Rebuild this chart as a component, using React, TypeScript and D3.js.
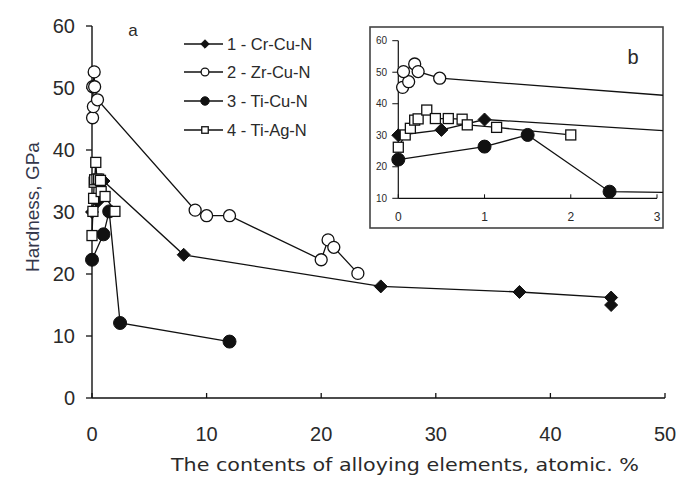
import React from "react";
import * as d3 from "d3";

// ---- data ----
const seriesNames = ["1 - Cr-Cu-N", "2 - Zr-Cu-N", "3 - Ti-Cu-N", "4 - Ti-Ag-N"];
const markerKinds = ["diamond", "openCircle", "filledCircle", "openSquare"];

const crCuN: [number, number][] = [
  [0, 30], [0.5, 31.7], [1, 35], [8, 23.1], [25.2, 18], [37.3, 17.1], [45.3, 16.2], [45.3, 15],
];
const zrCuN: [number, number][] = [
  [0.05, 45.2], [0.12, 47], [0.06, 50.2], [0.19, 52.6], [0.23, 50.2], [0.48, 48.1],
  [9, 30.3], [10, 29.4], [12, 29.4], [20, 22.3], [20.6, 25.5], [21.1, 24.3], [23.2, 20.1],
];
const tiCuN: [number, number][] = [
  [0, 22.3], [1, 26.4], [1.5, 30.1], [2.45, 12.1], [12, 9.1],
];
const tiAgN: [number, number][] = [
  [0, 26.2], [0.08, 30.1], [0.14, 32.2], [0.19, 34.8], [0.23, 35.2], [0.33, 38], [0.43, 35.3],
  [0.58, 35.3], [0.74, 35.1], [0.8, 33.3], [1.14, 32.5], [2, 30.1],
];
const allSeries = [crCuN, zrCuN, tiCuN, tiAgN];

const xTicks = [0, 10, 20, 30, 40, 50];
const yTicks = [0, 10, 20, 30, 40, 50, 60];
const insetXTicks = [0, 1, 2, 3];
const insetYTicks = [10, 20, 30, 40, 50, 60];

const xLabel = "The contents of alloying elements, atomic. %";
const yLabel = "Hardness, GPa";

// ---- layout ----
const W = 682, H = 477;
const x = d3.scaleLinear().domain([0, 50]).range([92, 665]);
const y = d3.scaleLinear().domain([0, 60]).range([398, 26]);
const xi = d3.scaleLinear().domain([0, 3]).range([398.3, 657]);
const yi = d3.scaleLinear().domain([10, 60]).range([198.3, 40.7]);

const INK = "#111";
const TXT = "#2a2a2a";
const SANS = "'Liberation Sans', Arial, sans-serif";

function Marker({ kind, cx, cy, s = 1 }: { kind: string; cx: number; cy: number; s?: number }) {
  if (kind === "diamond") {
    const r = 6.5 * s;
    return <path d={`M${cx},${cy - r}L${cx + r},${cy}L${cx},${cy + r}L${cx - r},${cy}Z`} fill={INK} stroke={INK} strokeWidth={1} />;
  }
  if (kind === "openCircle") return <circle cx={cx} cy={cy} r={6 * s} fill="#fff" stroke={INK} strokeWidth={1.3} />;
  if (kind === "filledCircle") return <circle cx={cx} cy={cy} r={6.5 * s} fill={INK} stroke={INK} strokeWidth={1} />;
  const h = 5 * s;
  return <rect x={cx - h} y={cy - h} width={2 * h} height={2 * h} fill="#fff" stroke={INK} strokeWidth={1.3} />;
}

function Plot({ sx, sy }: { sx: d3.ScaleLinear<number, number>; sy: d3.ScaleLinear<number, number> }) {
  const line = d3.line<[number, number]>().x((d) => sx(d[0])).y((d) => sy(d[1]));
  const order = [0, 2, 1, 3];
  return (
    <g>
      {allSeries.map((s, i) => (
        <path key={"l" + i} d={line(s) || ""} fill="none" stroke={INK} strokeWidth={1.3} />
      ))}
      {order.map((i) => (
        <g key={"m" + i}>
          {allSeries[i].map((d, j) => (
            <Marker key={j} kind={markerKinds[i]} cx={sx(d[0])} cy={sy(d[1])} />
          ))}
        </g>
      ))}
    </g>
  );
}

export default function App() {
  const legendRows = [44, 72, 101, 130];
  return (
    <svg width={W} height={H} style={{ position: "absolute", left: 0, top: 0, background: "#fff" }}>
      <rect width={W} height={H} fill="#fff" />
      {/* main axes */}
      <line x1={x(0)} x2={x(50)} y1={y(0)} y2={y(0)} stroke={INK} strokeWidth={1.4} />
      <line x1={x(0)} x2={x(0)} y1={y(0)} y2={y(60)} stroke={INK} strokeWidth={1.4} />
      {yTicks.map((t) => (
        <g key={"yt" + t}>
          <line x1={x(0) - 6} x2={x(0)} y1={y(t)} y2={y(t)} stroke={INK} strokeWidth={1.3} />
          <text x={75} y={y(t) + 7} textAnchor="end" fontFamily={SANS} fontSize={20} fill={TXT}>{t}</text>
        </g>
      ))}
      {xTicks.map((t) => (
        <g key={"xt" + t}>
          <line x1={x(t)} x2={x(t)} y1={y(0)} y2={y(0) - 5} stroke={INK} strokeWidth={1.3} />
          <text x={x(t)} y={441} textAnchor="middle" fontFamily={SANS} fontSize={20} fill={TXT}>{t}</text>
        </g>
      ))}
      <text x={405} y={471} textAnchor="middle" fontFamily="'DejaVu Sans', Verdana, sans-serif" fontSize={17} fill={TXT} textLength={468} lengthAdjust="spacingAndGlyphs">{xLabel}</text>
      <text transform="translate(39,207) rotate(-90)" textAnchor="middle" fontFamily={SANS} fontSize={19} fill="#33364a">{yLabel}</text>
      <text x={133} y={36} textAnchor="middle" fontFamily={SANS} fontSize={17} fill={TXT}>a</text>

      <Plot sx={x} sy={y} />

      {/* legend */}
      {seriesNames.map((n, i) => (
        <g key={"lg" + i}>
          <line x1={184} x2={223} y1={legendRows[i]} y2={legendRows[i]} stroke={INK} strokeWidth={1.3} />
          <Marker kind={markerKinds[i]} cx={205} cy={legendRows[i]} s={0.65} />
          <text x={227} y={legendRows[i] + 6} fontFamily={SANS} fontSize={16.5} fill={TXT}>{n}</text>
        </g>
      ))}

      {/* inset */}
      <defs>
        <clipPath id="insetClip">
          <rect x={370} y={27} width={293} height={201} />
        </clipPath>
      </defs>
      <rect x={370} y={27} width={293} height={201} fill="#fff" stroke="#444" strokeWidth={1.6} />
      <line x1={xi(0)} x2={xi(3)} y1={yi(10)} y2={yi(10)} stroke={INK} strokeWidth={1.2} />
      <line x1={xi(0)} x2={xi(0)} y1={yi(10)} y2={yi(60)} stroke={INK} strokeWidth={1.2} />
      {insetYTicks.map((t) => (
        <g key={"iyt" + t}>
          <line x1={xi(0) - 6} x2={xi(0)} y1={yi(t)} y2={yi(t)} stroke={INK} strokeWidth={1} />
          <text x={387} y={yi(t) + 3.5} textAnchor="end" fontFamily={SANS} fontSize={10} fill={TXT}>{t}</text>
        </g>
      ))}
      {insetXTicks.map((t) => (
        <g key={"ixt" + t}>
          <line x1={xi(t)} x2={xi(t)} y1={yi(10)} y2={yi(10) - 4} stroke={INK} strokeWidth={1} />
          <text x={xi(t)} y={221} textAnchor="middle" fontFamily={SANS} fontSize={12} fill={TXT}>{t}</text>
        </g>
      ))}
      <g clipPath="url(#insetClip)">
        <Plot sx={xi} sy={yi} />
      </g>
      <text x={633} y={64} textAnchor="middle" fontFamily={SANS} fontSize={20} fill={TXT}>b</text>
    </svg>
  );
}
